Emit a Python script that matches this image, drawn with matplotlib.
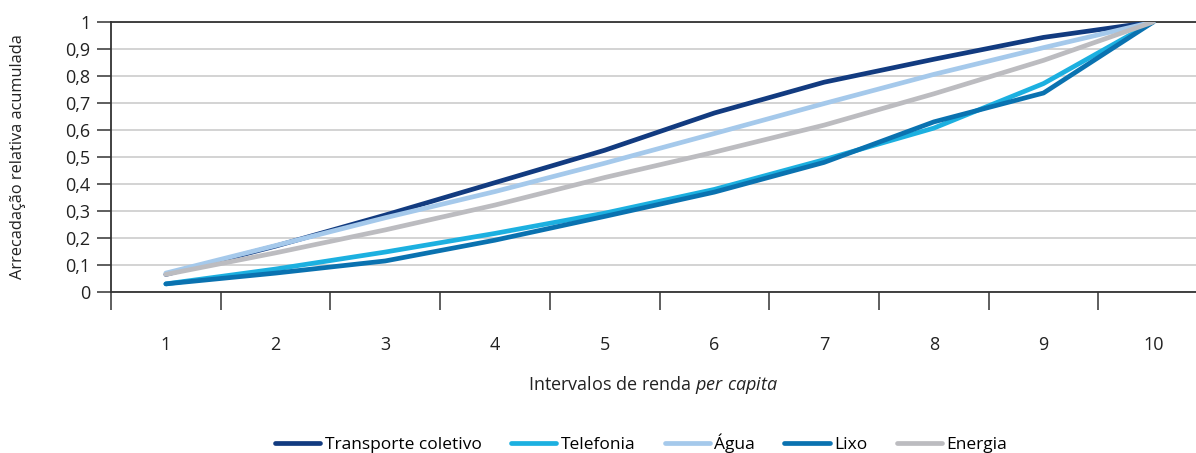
import matplotlib
matplotlib.use("Agg")
import matplotlib.pyplot as plt
from matplotlib.ticker import FixedLocator

plt.rcParams['font.family'] = ['Open Sans', 'DejaVu Sans']
plt.rcParams['mathtext.fontset'] = 'custom'
plt.rcParams['mathtext.rm'] = 'Open Sans'
plt.rcParams['mathtext.it'] = 'Open Sans:italic'

intervalos = [1, 2, 3, 4, 5, 6, 7, 8, 9, 10]
transporte = [0.065, 0.17, 0.285, 0.405, 0.525, 0.663, 0.777, 0.862, 0.943, 1.0]
telefonia = [0.03, 0.085, 0.148, 0.217, 0.292, 0.38, 0.49, 0.607, 0.772, 1.0]
agua = [0.07, 0.172, 0.275, 0.372, 0.477, 0.587, 0.698, 0.806, 0.905, 1.0]
lixo = [0.03, 0.07, 0.115, 0.192, 0.28, 0.37, 0.48, 0.63, 0.737, 1.0]
energia = [0.065, 0.145, 0.23, 0.322, 0.424, 0.518, 0.618, 0.734, 0.858, 1.0]
y_ticks = [0, 0.1, 0.2, 0.3, 0.4, 0.5, 0.6, 0.7, 0.8, 0.9, 1]
y_labels = ['0', '0,1', '0,2', '0,3', '0,4', '0,5', '0,6', '0,7', '0,8', '0,9', '1']

series = [
    ('Transporte coletivo', transporte, '#123b80'),
    ('Telefonia', telefonia, '#1cb0e0'),
    ('Água', agua, '#a5c9eb'),
    ('Lixo', lixo, '#0a72b0'),
    ('Energia', energia, '#bcbcc0'),
]

fs = 13

fig = plt.figure(figsize=(11.96, 4.53), dpi=100)
ax = fig.add_axes([111 / 1196, 1 - 292 / 453, 1 - 111 / 1196, (292 - 22) / 453])

for name, vals, col in series:
    ax.plot(intervalos, vals, color=col, lw=3.4, label=name, solid_capstyle='round', zorder=3)

ax.set_xlim(0.5, 10.39)
ax.set_ylim(0, 1)

ax.set_yticks(y_ticks)
ax.set_yticklabels(y_labels)
ax.grid(axis='y', color='#d0d0d0', lw=1.3, zorder=0)
ax.set_axisbelow(True)

ax.set_xticks(intervalos)
ax.set_xticklabels([str(i) for i in intervalos])
ax.xaxis.set_minor_locator(FixedLocator([i + 0.5 for i in range(0, 10)]))
ax.tick_params(axis='x', which='major', length=0, pad=32, labelsize=fs, colors='#222222')
ax.tick_params(axis='x', which='minor', length=13, width=1.1, direction='out', color='#333333')
ax.tick_params(axis='y', length=10, width=1.1, color='#333333', labelsize=fs,
               labelcolor='#222222', pad=5)

ax.spines['right'].set_visible(False)
for s in ['left', 'bottom', 'top']:
    ax.spines[s].set_color('#333333')
    ax.spines[s].set_linewidth(1.3)

fig.text(18 / 1196, 1 - 157 / 453, 'Arrecadação relativa acumulada', rotation=90,
         ha='center', va='center', fontsize=11.8, color='#222222')
fig.text(0.546, 1 - 385 / 453, r'Intervalos de renda $\mathit{per\ capita}$', ha='center', va='center',
         fontsize=fs, color='#222222')

fig.legend(loc='center', bbox_to_anchor=(0.536, 0.022), ncol=5, frameon=False,
           fontsize=12.5, handlelength=2.6, handletextpad=0.25, columnspacing=1.7)

fig.savefig('out.png', dpi=100)
